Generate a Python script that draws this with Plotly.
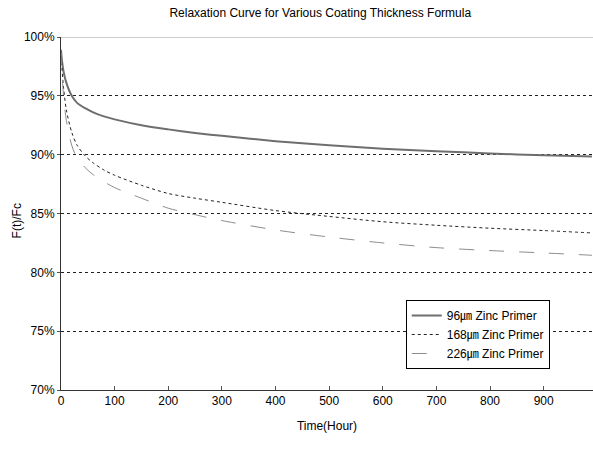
import plotly.graph_objects as go

hours = [0, 2, 5, 10, 20, 30, 45, 60, 80, 100, 150, 200, 250, 300, 400, 500, 600, 700, 800, 900, 990]
zinc_96 = [98.9, 97.9, 97.0, 96.1, 95.0, 94.4, 93.95, 93.6, 93.25, 93.0, 92.5, 92.15, 91.85, 91.6, 91.15, 90.8, 90.5, 90.3, 90.1, 89.95, 89.85]
zinc_168 = [98.9, 97.2, 95.6, 93.8, 91.9, 90.8, 89.9, 89.3, 88.7, 88.25, 87.4, 86.7, 86.3, 85.95, 85.25, 84.75, 84.3, 84.0, 83.75, 83.55, 83.35]
zinc_226 = [98.9, 96.8, 94.9, 92.9, 90.8, 89.7, 88.9, 88.3, 87.7, 87.2, 86.3, 85.45, 84.9, 84.4, 83.6, 83.0, 82.5, 82.1, 81.85, 81.65, 81.45]
names = ["96㎛ Zinc Primer", "168㎛ Zinc Primer", "226㎛ Zinc Primer"]
y_ticks = [70, 75, 80, 85, 90, 95, 100]
x_ticks = [0, 100, 200, 300, 400, 500, 600, 700, 800, 900]

FONT = "Liberation Sans, Arial, Noto Sans CJK KR, sans-serif"

fig = go.Figure()
fig.add_trace(go.Scatter(x=hours, y=zinc_96, mode="lines", name=names[0],
                         line=dict(color="#6e6e6e", width=2, shape="spline", smoothing=0.8)))
fig.add_trace(go.Scatter(x=hours, y=zinc_168, mode="lines", name=names[1],
                         line=dict(color="#222222", width=1, dash="dot", shape="spline", smoothing=0.8)))
fig.add_trace(go.Scatter(x=hours, y=zinc_226, mode="lines", name=names[2],
                         line=dict(color="#8c8c8c", width=1, dash="longdash", shape="spline", smoothing=0.8)))

fig.add_shape(type="line", xref="paper", yref="y", x0=0, x1=1, y0=100, y1=100,
              line=dict(color="#9a9a9a", width=1))

fig.add_annotation(text="F(t)/Fc", xref="paper", yref="paper", x=-0.083, y=0.48,
                   xanchor="center", yanchor="middle", textangle=-90, showarrow=False,
                   font=dict(family=FONT, size=12, color="black"))

fig.update_layout(
    width=593, height=453,
    margin=dict(l=61, r=0, t=37, b=63),
    paper_bgcolor="white", plot_bgcolor="white",
    font=dict(family=FONT, size=12, color="black"),
    title=dict(text="Relaxation Curve for Various Coating Thickness Formula",
               x=0.54, xanchor="center", y=0.972, yanchor="middle",
               font=dict(family=FONT, size=12, color="black")),
    showlegend=True,
    legend=dict(x=0.648, y=0.255, xanchor="left", yanchor="top",
                bordercolor="black", borderwidth=1, bgcolor="white",
                font=dict(family=FONT, size=12, color="black"),
                tracegroupgap=0, itemwidth=30),
    xaxis=dict(range=[0, 992], tickvals=x_ticks, ticktext=[str(v) for v in x_ticks],
               showgrid=False, zeroline=False, showline=True, linecolor="#333333", linewidth=1,
               ticks="inside", ticklen=4, tickcolor="#555555",
               title=dict(text="Time(Hour)", font=dict(family=FONT, size=12), standoff=14),
               tickfont=dict(family=FONT, size=12)),
    yaxis=dict(range=[70, 100], tickvals=y_ticks, ticktext=[f"{v}%" for v in y_ticks],
               showgrid=True, gridcolor="#222222", gridwidth=1, griddash="dot",
               zeroline=False, showline=True, linecolor="#333333", linewidth=1,
               ticks="outside", ticklen=3, tickcolor="#555555",
               tickfont=dict(family=FONT, size=12)),
)

fig.write_html("out.html")
